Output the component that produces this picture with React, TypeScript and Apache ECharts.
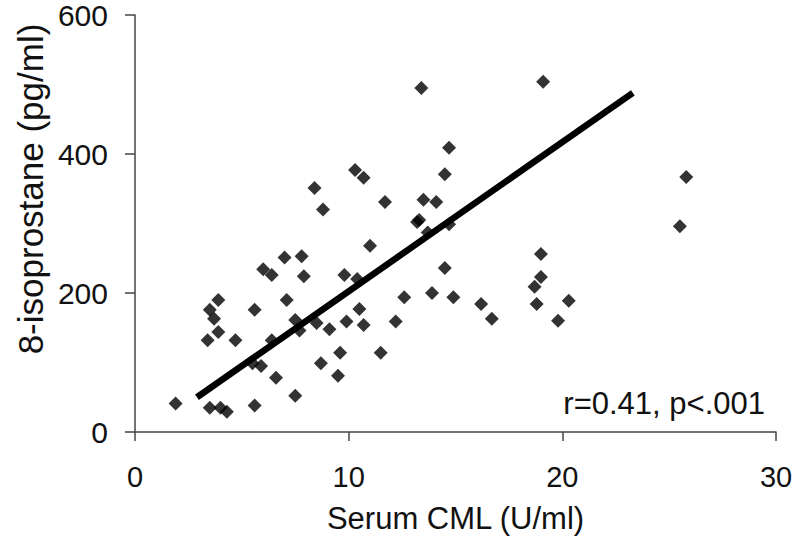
import React, { useEffect, useRef } from "react";
import * as echarts from "echarts";

// Serum CML (U/ml) values
const cmlValues = [
  1.9, 3.5, 4.0, 4.3, 5.6, 7.5, 3.4, 3.9, 4.7, 3.7, 3.5, 3.9, 5.6, 6.0, 6.4, 7.0,
  7.8, 7.9, 7.1, 11.0, 9.8, 10.4, 14.5, 12.6, 13.9, 14.9, 10.5, 9.9, 10.7, 12.2,
  9.1, 8.5, 7.5, 7.7, 6.4, 5.5, 5.9, 6.6, 8.7, 9.5, 9.6, 11.5, 13.2, 13.7, 14.7,
  13.4, 14.7, 14.5, 10.3, 10.7, 8.4, 8.8, 11.7, 13.5, 14.1, 13.3, 19.1, 25.8,
  25.5, 19.0, 19.0, 18.7, 16.2, 18.8, 20.3, 16.7, 19.8,
];
// 8-isoprostane (pg/ml) values
const isoValues = [
  41, 35, 35, 29, 38, 52, 132, 144, 132, 163, 176, 190, 176, 234, 226, 251,
  253, 224, 190, 268, 226, 220, 236, 194, 200, 194, 177, 159, 154, 159,
  148, 157, 161, 146, 132, 99, 95, 78, 99, 81, 114, 114, 302, 287, 299,
  495, 409, 371, 377, 366, 351, 320, 331, 334, 331, 305, 504, 367,
  296, 256, 223, 209, 184, 184, 189, 163, 160,
];
// Regression line end points
const fitX = [2.9, 23.3];
const fitY = [50, 488];

const xTicks = [0, 10, 20, 30];
const yTicks = [0, 200, 400, 600];
const annotation = "r=0.41, p<.001";
const xTitle = "Serum CML (U/ml)";
const yTitle = "8-isoprostane (pg/ml)";

export default function App() {
  const ref = useRef<HTMLDivElement>(null);
  useEffect(() => {
    if (!ref.current) return;
    const chart = echarts.init(ref.current, null, { renderer: "svg" });
    const font = "Liberation Sans, Arial, Helvetica, sans-serif";
    const scatterData = cmlValues.map((x, i) => [x, isoValues[i]]);
    const lineData = fitX.map((x, i) => [x, fitY[i]]);
    chart.setOption({
      animation: false,
      backgroundColor: "#ffffff",
      grid: { left: 135, top: 14, right: 24, bottom: 112, containLabel: false },
      xAxis: {
        type: "value",
        min: xTicks[0],
        max: xTicks[xTicks.length - 1],
        interval: 10,
        name: xTitle,
        nameLocation: "middle",
        nameGap: 71,
        nameTextStyle: { fontFamily: font, fontSize: 31, color: "#111" },
        axisLine: { lineStyle: { color: "#444", width: 1.5 } },
        axisTick: { show: true, inside: false, length: 9, lineStyle: { color: "#444", width: 1.5 } },
        axisLabel: { fontFamily: font, fontSize: 29, color: "#111", margin: 30 },
        splitLine: { show: false },
      },
      yAxis: {
        type: "value",
        min: yTicks[0],
        max: yTicks[yTicks.length - 1],
        interval: 200,
        axisLine: { show: true, lineStyle: { color: "#444", width: 1.5 } },
        axisTick: { show: true, inside: false, length: 10, lineStyle: { color: "#444", width: 1.5 } },
        axisLabel: { fontFamily: font, fontSize: 30, color: "#111", margin: 27 },
        splitLine: { show: false },
      },
      series: [
        {
          type: "scatter",
          data: scatterData,
          symbol: "diamond",
          symbolSize: 14,
          itemStyle: { color: "#000" },
          z: 2,
        },
        {
          type: "line",
          data: lineData,
          symbol: "none",
          lineStyle: { color: "#000", width: 6.5 },
          z: 3,
        },
      ],
      graphic: [
        {
          type: "text",
          right: 35,
          top: 388,
          style: { text: annotation, font: `31px ${font}`, fill: "#111" },
        },
        {
          type: "text",
          x: 30,
          y: 189,
          rotation: Math.PI / 2,
          style: {
            text: yTitle,
            font: `35px ${font}`,
            fill: "#111",
            align: "center",
            verticalAlign: "middle",
          },
          originX: 0,
          originY: 0,
        },
      ],
    });
    return () => chart.dispose();
  }, []);
  return (
    <div
      ref={ref}
      style={{ position: "fixed", left: 0, top: 0, width: 800, height: 544 }}
    />
  );
}
